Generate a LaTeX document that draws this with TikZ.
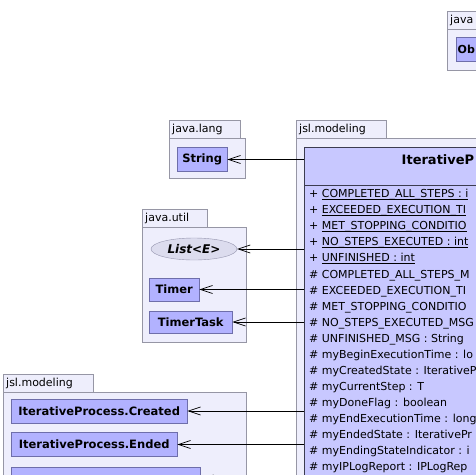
\documentclass[tikz,border=0pt]{standalone}
\usepackage{fontspec}
\setmainfont{DejaVu Sans}
\usepackage{xcolor}
\usepackage{tikz}
\usetikzlibrary{shapes.geometric,arrows.meta,positioning}
\definecolor{pkgfill} {RGB}{238,238,252}
\definecolor{pkgline} {RGB}{150,150,165}
\definecolor{boxfill} {RGB}{178,178,255}
\definecolor{boxline} {RGB}{110,110,170}
\definecolor{clsfill} {RGB}{200,200,255}
\definecolor{clsline} {RGB}{60,60,80}
\definecolor{elfill}  {RGB}{220,220,238}
\definecolor{elline}  {RGB}{150,150,175}
\newcommand{\staticattr}[1]{\underline{\smash{#1}}}

\begin{document}
\begin{tikzpicture}[
      x=1pt, y=-1pt,
      font=\fontsize{11}{13}\selectfont,
      pkgtab/.style={rectangle, draw=pkgline, fill=pkgfill, anchor=north west,
        inner xsep=3pt, inner ysep=0pt, minimum height=18pt, text width=#1, align=left},
      pkgbody/.style={rectangle, draw=pkgline, fill=pkgfill, anchor=north west, inner sep=0pt},
      typebox/.style={rectangle, draw=boxline, fill=boxfill, anchor=west, inner sep=0pt,
        minimum height=24pt, font=\fontsize{11.5}{13}\selectfont\bfseries},
      clsbox/.style={rectangle, draw=clsline, fill=clsfill, anchor=north west, inner sep=0pt},
      attr/.style={anchor=west, inner sep=0pt},
      dep/.style={-{Straight Barb[length=12pt,width=8pt]}, line width=0.7pt, black},
    ]
    \useasboundingbox (0,0) rectangle (476,474);
    \fill[white] (0,0) rectangle (476,474);
    \clip (0,0) rectangle (476,474);

    % ── java.lang (top right) ───────────────────────────────────
    \node[pkgtab=60pt] (objtab) at (447,11) {java};
    \node[pkgbody, minimum width=60pt, minimum height=41pt] (objpkg) at (447,29) {};
    \node[typebox, minimum width=50pt] (obj) at (456,49) {};
    \node[anchor=west, inner sep=0pt, font=\fontsize{11}{13}\selectfont\bfseries] (objname)
      at (457.5,49) {Ob};

    % ── java.lang ───────────────────────────────────────────────
    \node[pkgtab=65pt] (langtab) at (169,120) {java.lang};
    \node[pkgbody, minimum width=76pt, minimum height=40pt] (langpkg) at (169,138) {};
    \node[typebox, minimum width=50pt] (str) at (177,159.5) {String};

    % ── java.util ───────────────────────────────────────────────
    \node[pkgtab=59pt] (utiltab) at (142,209) {java.util};
    \node[pkgbody, minimum width=104pt, minimum height=115pt] (utilpkg) at (142,227) {};
    \node[ellipse, draw=elline, fill=elfill, minimum width=86pt, minimum height=22pt,
      inner sep=0pt, font=\fontsize{12}{14}\selectfont\bfseries\itshape] (list) at (194,249) {List<E>};
    \node[typebox, minimum width=50pt, minimum height=23pt] (timer) at (149,289.5) {Timer};
    \node[typebox, minimum width=83pt, minimum height=22pt] (task) at (149,322) {TimerTask};

    % ── jsl.modeling (inner classes) ────────────────────────────
    \node[pkgtab=84pt] (innertab) at (3,374) {jsl.modeling};
    \node[pkgbody, minimum width=243pt, minimum height=120pt] (innerpkg) at (3,392) {};
    \node[typebox, minimum width=176pt] (created) at (11,411) {IterativeProcess.Created};
    \node[typebox, minimum width=166pt] (ended) at (11,444.5) {IterativeProcess.Ended};
    \node[typebox, minimum width=189pt] (init) at (11,479) {};

    % ── jsl.modeling (IterativeProcess) ─────────────────────────
    \node[pkgtab=84pt] (modtab) at (296,120) {jsl.modeling};
    \node[pkgbody, minimum width=200pt, minimum height=360pt] (modpkg) at (296,138) {};
    \node[clsbox, minimum width=200pt, minimum height=38pt] (iphead) at (304,147) {};
    \node[clsbox, minimum width=200pt, minimum height=320pt] (ipattr) at (iphead.south west) {};
    \node[anchor=west, inner sep=0pt, font=\fontsize{13}{15}\selectfont\bfseries] (iptitle)
      at (401.5,160) {IterativeP};

    \foreach \vis/\txt [count=\i from 0] in {
        +/{\staticattr{COMPLETED\_ALL\_STEPS : i}},
        +/{\staticattr{EXCEEDED\_EXECUTION\_TI}},
        +/{\staticattr{MET\_STOPPING\_CONDITIO}},
        +/{\staticattr{NO\_STEPS\_EXECUTED : int}},
        +/{\staticattr{UNFINISHED : int}},
        \#/{COMPLETED\_ALL\_STEPS\_M},
        \#/{EXCEEDED\_EXECUTION\_TI},
        \#/{MET\_STOPPING\_CONDITIO},
        \#/{NO\_STEPS\_EXECUTED\_MSG},
        \#/{UNFINISHED\_MSG : String},
        \#/{myBeginExecutionTime : lo},
        \#/{myCreatedState : IterativeP},
        \#/{myCurrentStep : T},
        \#/{myDoneFlag : boolean},
        \#/{myEndExecutionTime : long},
        \#/{myEndedState : IterativePr},
        \#/{myEndingStateIndicator : i},
        \#/{myIPLogReport : IPLogRep}}
      \node[attr] (at\i) at (309, 195+16.05*\i) {\vis\ \txt};

    % ── dependencies ────────────────────────────────────────────
    \draw[dep] (iphead.west |- str.east) -- (str.east);
    \draw[dep] (ipattr.west |- list.east) -- (list.east);
    \draw[dep] (ipattr.west |- timer.east) -- (timer.east);
    \draw[dep] (ipattr.west |- task.east) -- (task.east);
    \draw[dep] (ipattr.west |- created.east) -- (created.east);
    \draw[dep] (ipattr.west |- ended.east) -- (ended.east);
    \draw[dep] (ipattr.west |- init.east) -- (init.east);

    \end{tikzpicture}
\end{document}
